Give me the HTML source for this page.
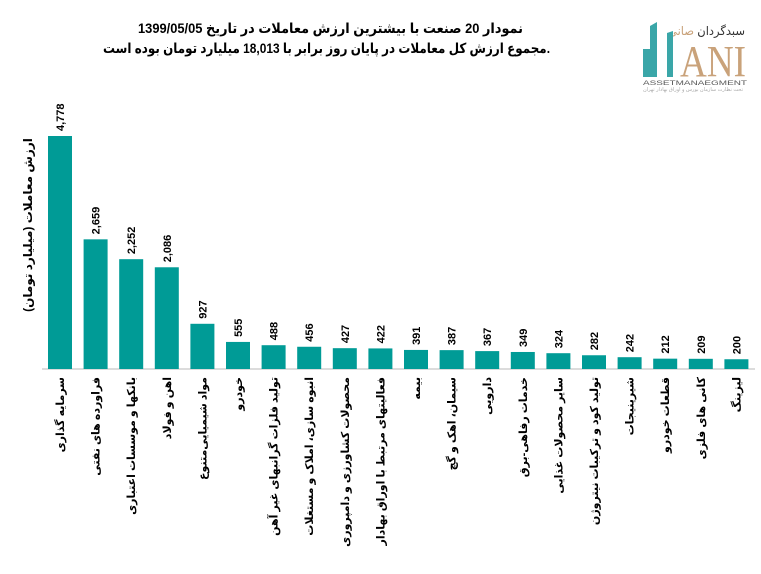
<!DOCTYPE html>
<html><head><meta charset="utf-8"><style>
html,body{margin:0;padding:0;background:#fff;width:761px;height:574px;overflow:hidden}
svg{display:block;font-family:"Liberation Sans","DejaVu Sans",sans-serif}
</style></head><body>
<svg id="s" width="761" height="574" xmlns="http://www.w3.org/2000/svg">
<text x="138" y="33" font-size="14" font-weight="bold" textLength="385" lengthAdjust="spacingAndGlyphs">نمودار  20 صنعت با بیشترین ارزش معاملات در تاریخ 1399/05/05</text>
<text x="103" y="53" font-size="14" font-weight="bold" textLength="447" lengthAdjust="spacingAndGlyphs">مجموع ارزش  کل معاملات در پایان روز برابر با 18,013 میلیارد تومان بوده است.</text>
<g>
<text x="668" y="35" font-size="12" fill="#333" textLength="77" lengthAdjust="spacingAndGlyphs">سبدگردان <tspan fill="#c9a27a">صانی</tspan></text>
<rect x="643" y="49" width="7" height="28" fill="#3aa6a8"/>
<polygon points="650,77 650,26 657,22 657,77" fill="#3aa6a8"/>
<polygon points="667,77 667,33 673,31 673,77" fill="#3aa6a8"/>
<text x="680" y="76" font-size="44" fill="#c9a27a" font-family="Liberation Serif,serif" textLength="66" lengthAdjust="spacingAndGlyphs">ANI</text>
<text x="643" y="85" font-size="6" fill="#555" textLength="104" lengthAdjust="spacingAndGlyphs">ASSETMANAEGMENT</text>
<text x="643" y="91" font-size="5" fill="#aaa" textLength="100" lengthAdjust="spacingAndGlyphs">تحت نظارت سازمان بورس و اوراق بهادار تهران</text>
</g>
<line x1="42" y1="369" x2="755" y2="369" stroke="#d0d0d0" stroke-width="1.5"/>
<text transform="translate(32,225) rotate(-90)" font-size="12" font-weight="bold" text-anchor="middle">ارزش معاملات (میلیارد تومان)</text>
<g id="bars"></g>
</svg>
<script>
var d=[["سرمایه گذاری",4778],["فراورده های نفتی",2659],["بانکها و موسسات اعتباری",2252],["اهن و فولاد",2086],["مواد شیمیایی‌متنوع",927],["خودرو",555],["تولید فلزات گرانبهای غیر آهن",488],["انبوه سازی، املاک و مستغلات",456],["محصولات کشاورزی و دامپروری",427],["فعالیتهای مرتبط با اوراق بهادار",422],["بیمه",391],["سیمان، اهک و گچ",387],["دارویی",367],["خدمات رفاهی‌-برق",349],["سایر محصولات غذایی",324],["تولید کود و ترکیبات نیتروژن",282],["شیرینیجات",242],["قطعات خودرو",212],["کانی های فلزی",209],["لیزینگ",200]];
var g=document.getElementById("bars"),h="",k=233/4778;
d.forEach(function(r,i){var c=60+i*35.6,ht=r[1]*k,t=369-ht;
h+='<rect x="'+(c-12)+'" y="'+t+'" width="24" height="'+ht+'" fill="#009b96"/>';
h+='<text transform="translate('+(c+4)+','+(t-5)+') rotate(-90)" font-size="11" font-weight="bold">'+r[1].toLocaleString("en-US")+'</text>';
h+='<text transform="translate('+(c+4)+',377) rotate(-90)" font-size="11" font-weight="bold" text-anchor="end">'+r[0]+'</text>';});
g.innerHTML=h;
</script>
</body></html>
